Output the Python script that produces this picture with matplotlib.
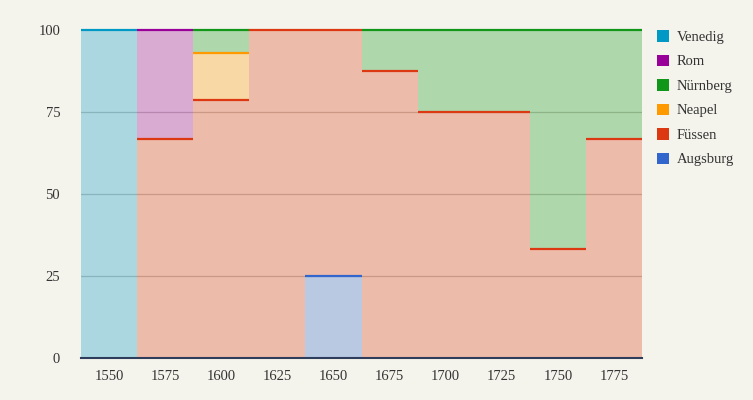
import matplotlib
matplotlib.use("Agg")
import matplotlib.pyplot as plt
from matplotlib.patches import Patch
import numpy as np

years = [1550, 1575, 1600, 1625, 1650, 1675, 1700, 1725, 1750, 1775]
# stacking order: bottom to top
augsburg = [0, 0, 0, 0, 25, 0, 0, 0, 0, 0]
fuessen = [0, 66.7, 78.6, 100, 75, 87.5, 75, 75, 33.3, 66.7]
neapel = [0, 0, 14.3, 0, 0, 0, 0, 0, 0, 0]
nuernberg = [0, 0, 7.1, 0, 0, 12.5, 25, 25, 66.7, 33.3]
rom = [0, 33.3, 0, 0, 0, 0, 0, 0, 0, 0]
venedig = [100, 0, 0, 0, 0, 0, 0, 0, 0, 0]

series = [
    ("Augsburg", augsburg, "#3366cc"),
    ("Füssen", fuessen, "#dc3912"),
    ("Neapel", neapel, "#ff9900"),
    ("Nürnberg", nuernberg, "#109618"),
    ("Rom", rom, "#990099"),
    ("Venedig", venedig, "#0099c6"),
]
legend_order = ["Venedig", "Rom", "Nürnberg", "Neapel", "Füssen", "Augsburg"]
yticks = [0, 25, 50, 75, 100]

bg = "#f5f4ec"
font = "Liberation Serif"

fig = plt.figure(figsize=(7.53, 4.0), dpi=100, facecolor=bg)
ax = fig.add_axes([81 / 753, 1 - 358 / 400, (642 - 81) / 753, (358 - 30) / 400])
ax.set_facecolor(bg)

width = 25
x = np.array(years, dtype=float)
bottom = np.zeros(len(years))
for name, vals, col in series:
    v = np.array(vals, dtype=float)
    ax.bar(x, v, width=width, bottom=bottom, color=col, alpha=0.3,
           edgecolor="none", linewidth=0, zorder=2)
    bottom = bottom + v

bottom = np.zeros(len(years))
for name, vals, col in series:
    v = np.array(vals, dtype=float)
    top = bottom + v
    mask = v > 0
    ax.hlines(top[mask], x[mask] - width / 2, x[mask] + width / 2,
              colors=col, linewidth=1.6, zorder=4, clip_on=False)
    bottom = top

for yv in yticks[1:-1]:
    ax.axhline(yv, color="#c4c2b8", linewidth=0.9, zorder=1)
ax.axhline(0, color="#2e3d5c", linewidth=1.5, zorder=5, clip_on=False)

ax.set_xlim(years[0] - width / 2, years[-1] + width / 2)
ax.set_ylim(0, 100)
ax.set_xticks(years)
ax.set_xticklabels([str(y) for y in years], fontfamily=font, fontsize=10.5, color="#333333")
ax.set_yticks(yticks)
ax.set_yticklabels([str(y) for y in yticks], fontfamily=font, fontsize=10.5, color="#333333")
ax.tick_params(length=0)
ax.tick_params(axis="y", pad=15)
ax.tick_params(axis="x", pad=9)
for s in ax.spines.values():
    s.set_visible(False)

colors = {n: c for n, _, c in series}
handles = [Patch(facecolor=colors[n], edgecolor="none", label=n) for n in legend_order]
leg = fig.legend(handles=handles, loc="upper left", bbox_to_anchor=(657 / 753, 1 - 30 / 400),
                 frameon=False, prop={"family": font, "size": 10.5},
                 handlelength=0.85, handleheight=0.85, handletextpad=0.5,
                 labelspacing=0.73, borderaxespad=0, borderpad=0)
for t in leg.get_texts():
    t.set_color("#333333")

fig.savefig("out.png", dpi=100, facecolor=bg)
